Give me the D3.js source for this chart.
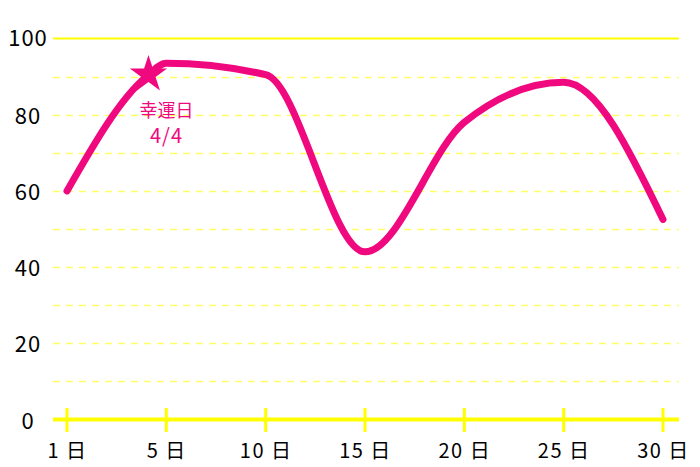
<!DOCTYPE html>
<html><head><meta charset="utf-8">
<script src="https://cdn.jsdelivr.net/npm/d3@7"></script>
<style>html,body{margin:0;padding:0;background:#fff;}svg{display:block;}</style>
</head><body><svg id="c" width="700" height="467"></svg>
<script>
// x positions are day offsets (0 = first day, labelled "1 日")
const tickDays = [0, 5, 10, 15, 20, 25, 30];
const dayLabels = ["1 日", "5 日", "10 日", "15 日", "20 日", "25 日", "30 日"];
const days = [0, 4, 5, 10, 15, 20, 25, 30];
const values = [60, 90, 93.5, 90.5, 44, 78, 88.5, 52.5];
const yTickValues = [0, 20, 40, 60, 80, 100];
const gridValues = [10, 20, 30, 40, 50, 60, 70, 80, 90];
const noteDay = [4];
const noteValue = [90];
const noteText = ["幸運日", "4/4"];

const svg = d3.select("#c");
const font = "'Noto Sans CJK JP', 'Noto Sans', sans-serif";
const pink = "#f0087f";
const x = d3.scaleLinear().domain([0, 30]).range([67, 663]);
const y = d3.scaleLinear().domain([0, 100]).range([419.5, 38.5]);
const gx0 = 53, gx1 = 679;

// dashed grid
svg.append("g").selectAll("line").data(gridValues).join("line")
  .attr("x1", gx0).attr("x2", gx1)
  .attr("y1", d => Math.round(y(d)) + 0.5).attr("y2", d => Math.round(y(d)) + 0.5)
  .attr("stroke", "#ffff66").attr("stroke-width", 1.6)
  .attr("stroke-dasharray", "7,6");
// top solid
svg.append("line").attr("x1", gx0).attr("x2", gx1)
  .attr("y1", y(100)).attr("y2", y(100))
  .attr("stroke", "#ffff00").attr("stroke-width", 2);

// y labels
svg.append("g").selectAll("text").data(yTickValues).join("text")
  .attr("x", 28).attr("y", d => y(d) + (d === 100 ? -3 : -1))
  .attr("text-anchor", "middle").attr("dominant-baseline", "central")
  .attr("font-family", font).attr("font-size", 22).attr("letter-spacing", 1)
  .attr("fill", "#000")
  .text(d => d);

// x axis
const xAxis = d3.axisBottom(x).tickValues(tickDays).tickSize(0).tickFormat((d, i) => dayLabels[i]);
const ax = svg.append("g").attr("transform", `translate(0,${y(0)})`).call(xAxis);
ax.select(".domain").remove();
ax.selectAll("text").attr("font-family", font).attr("font-size", 20)
  .attr("letter-spacing", 1.5).attr("fill", "#000")
  .attr("dy", "0").attr("y", 38);
svg.append("line").attr("x1", gx0).attr("x2", gx1)
  .attr("y1", y(0)).attr("y2", y(0)).attr("stroke", "#ffff00").attr("stroke-width", 4);
svg.append("g").selectAll("line").data(tickDays).join("line")
  .attr("x1", d => x(d)).attr("x2", d => x(d))
  .attr("y1", 408).attr("y2", 432)
  .attr("stroke", "#ffff00").attr("stroke-width", 3);

// line
const line = d3.line().x((d, i) => x(days[i])).y(d => y(d)).curve(d3.curveMonotoneX);
svg.append("path").datum(values).attr("d", line)
  .attr("fill", "none").attr("stroke", pink).attr("stroke-width", 7)
  .attr("stroke-linecap", "round").attr("stroke-linejoin", "round");

// annotation star
const star = d3.symbol().type(d3.symbolStar).size(430);
svg.append("path").attr("d", star())
  .attr("transform", `translate(${x(noteDay[0]) + 2},${y(noteValue[0]) - 2})`)
  .attr("fill", pink);
svg.append("g").selectAll("text").data(noteText).join("text")
  .attr("x", x(noteDay[0]) + 20).attr("y", (d, i) => 117 + i * 26)
  .attr("text-anchor", "middle").attr("font-family", font)
  .attr("font-size", (d, i) => i === 0 ? 18 : 20)
  .attr("letter-spacing", (d, i) => i === 0 ? 0 : 1)
  .attr("fill", pink).text(d => d);
</script></body></html>
